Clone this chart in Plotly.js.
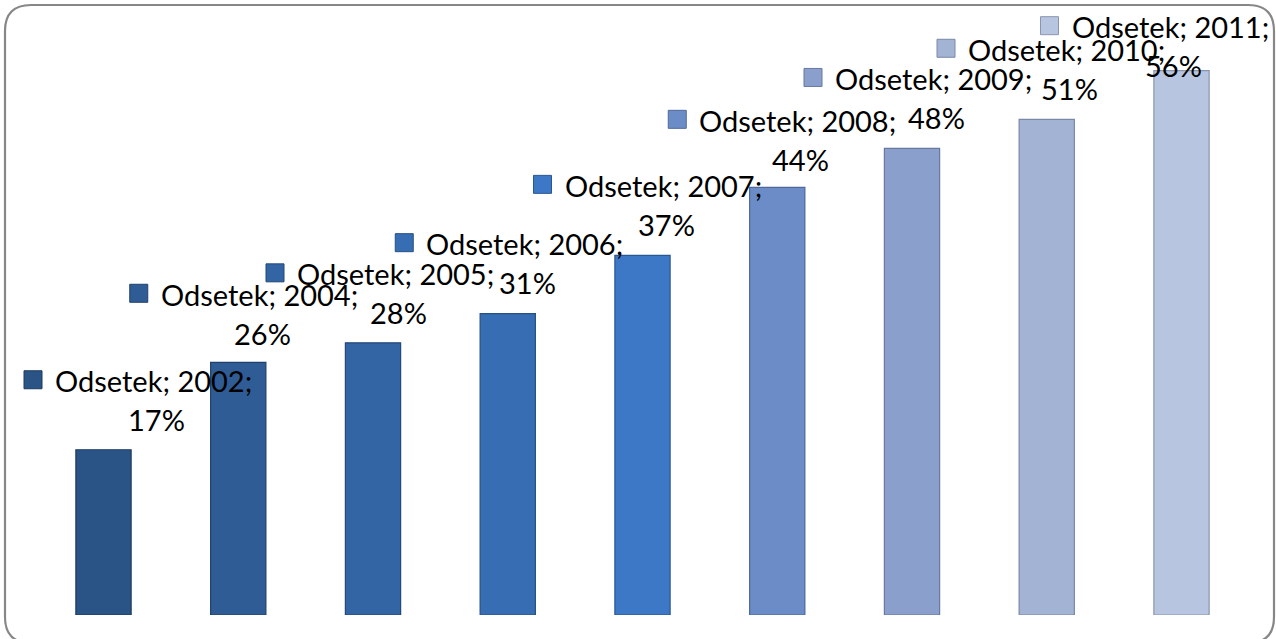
<!DOCTYPE html>
<html>
<head>
<meta charset="utf-8">
<script src="https://cdn.plot.ly/plotly-3.0.1.min.js"></script>
<style>
  html, body { margin: 0; padding: 0; background: #ffffff; }
  #chart { width: 1276px; height: 639px; }
</style>
</head>
<body>
<div id="chart"></div>
<script>
// ---- data ----
const seriesName = "Odsetek";
const years = ["2002", "2004", "2005", "2006", "2007", "2008", "2009", "2010", "2011"];
const shares = [17, 26, 28, 31, 37, 44, 48, 51, 56];   // percent

// ---- styles ----
const barColors = ["#2B5486", "#2F5C95", "#3364A3", "#376EB3", "#3C78C6",
                   "#6B8CC6", "#8A9FCB", "#A3B3D4", "#B8C5E0"];
const barEdges  = ["#1C3A60", "#1F406B", "#234878", "#264F84", "#2A5792",
                   "#4D6899", "#66799E", "#7A88A6", "#8A96AE"];
// label offsets in pixels relative to the bar top centre: [dx, dy up]
const labelOffsets = [[50, 69], [21, 68], [22.5, 69], [17, 70], [20.5, 70],
                      [20.5, 67], [21.5, 70], [19.75, 70], [-11.5, 44]];

const W = 1276, H = 639;
const margin = {l: 0, r: 0, t: 0, b: 24};
const plotW = W - margin.l - margin.r, plotH = H - margin.t - margin.b;
const pxPerCat = 134.75, firstCentre = 103.5, pxPerUnit = 9.72;
const xMin = -firstCentre / pxPerCat;
const xMax = xMin + plotW / pxPerCat;
const yMax = plotH / pxPerUnit;

const font = {family: "Lato, 'Open Sans', sans-serif", size: 29, color: "#000000"};

const pos = years.map((_, i) => i);

const trace = {
  type: "bar",
  x: pos,
  y: shares,
  width: 0.41,
  marker: {color: barColors, line: {color: barEdges, width: 1.2}},
  hoverinfo: "skip"
};

const annotations = [];
const shapes = [];
years.forEach((yr, i) => {
  const [dx, dy] = labelOffsets[i];
  annotations.push({
    x: pos[i], y: shares[i], xref: "x", yref: "y",
    text: seriesName + "; " + yr + ";",
    showarrow: false, xanchor: "center", yanchor: "middle",
    xshift: dx, yshift: dy, font: font
  });
  annotations.push({
    x: pos[i], y: shares[i], xref: "x", yref: "y",
    text: shares[i] + "%",
    showarrow: false, xanchor: "center", yanchor: "middle",
    xshift: dx + 3, yshift: dy - 39, font: font
  });
  shapes.push({
    type: "rect", xref: "x", yref: "y",
    xsizemode: "pixel", ysizemode: "pixel",
    xanchor: pos[i], yanchor: shares[i],
    x0: dx - 129.5, x1: dx - 111.5,
    y0: dy - 8, y1: dy + 10,
    fillcolor: barColors[i],
    line: {color: barEdges[i], width: 1}
  });
});

// rounded outer frame (paper coordinates computed from pixel corners)
function px(x) { return (x - margin.l) / plotW; }
function py(y) { return (H - margin.b - y) / plotH; }
const fx0 = 5, fy0 = 5, fx1 = 1274, fy1 = 643, rad = 26;
const framePath =
  "M " + px(fx0 + rad) + "," + py(fy0) +
  " L " + px(fx1 - rad) + "," + py(fy0) +
  " Q " + px(fx1) + "," + py(fy0) + " " + px(fx1) + "," + py(fy0 + rad) +
  " L " + px(fx1) + "," + py(fy1 - rad) +
  " Q " + px(fx1) + "," + py(fy1) + " " + px(fx1 - rad) + "," + py(fy1) +
  " L " + px(fx0 + rad) + "," + py(fy1) +
  " Q " + px(fx0) + "," + py(fy1) + " " + px(fx0) + "," + py(fy1 - rad) +
  " L " + px(fx0) + "," + py(fy0 + rad) +
  " Q " + px(fx0) + "," + py(fy0) + " " + px(fx0 + rad) + "," + py(fy0) + " Z";
shapes.push({
  type: "path", xref: "paper", yref: "paper", path: framePath,
  line: {color: "#878787", width: 2.2}, layer: "below"
});

const layout = {
  width: W, height: H,
  margin: margin,
  paper_bgcolor: "#ffffff",
  plot_bgcolor: "rgba(0,0,0,0)",
  showlegend: false,
  xaxis: {type: "linear", visible: false, range: [xMin, xMax], fixedrange: true},
  yaxis: {visible: false, range: [0, yMax], fixedrange: true},
  annotations: annotations,
  shapes: shapes
};

Plotly.newPlot("chart", [trace], layout, {displayModeBar: false, staticPlot: true});
</script>
</body>
</html>
